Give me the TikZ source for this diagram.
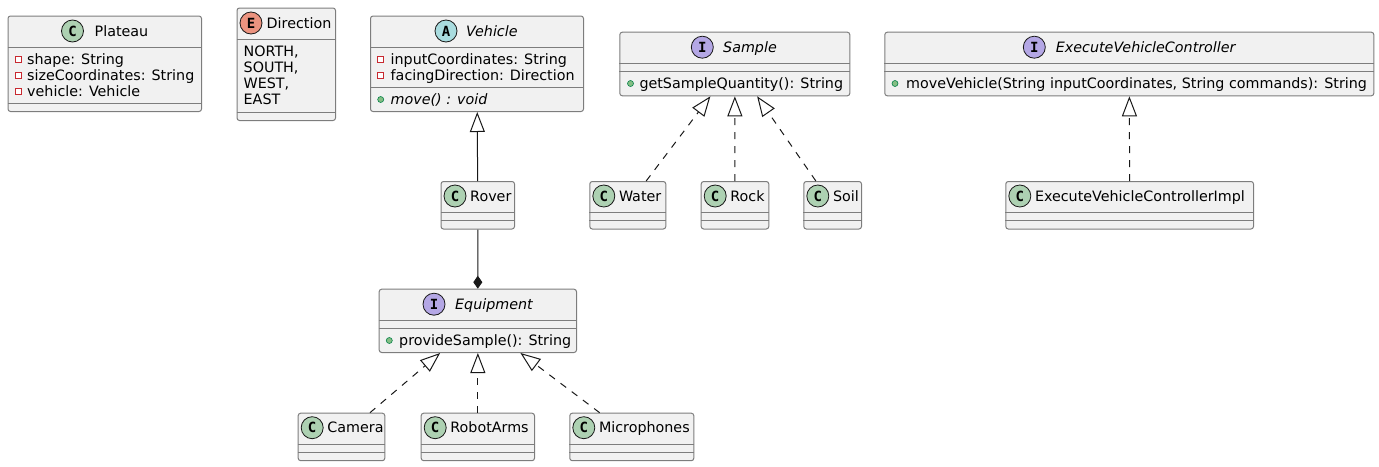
\documentclass[tikz,border=0pt]{standalone}
\usepackage{fontspec}
\setmainfont{DejaVu Sans}
\newfontfamily\badgefont{DejaVu Sans Mono}
\usetikzlibrary{arrows.meta,positioning}
\definecolor{umlfill}{RGB}{241,241,241}
\definecolor{umledge}{RGB}{125,125,125}
\definecolor{umlink}{RGB}{24,24,24}
\definecolor{classbadge}{RGB}{173,209,178}
\definecolor{enumbadge}{RGB}{235,147,127}
\definecolor{abstractbadge}{RGB}{169,220,223}
\definecolor{ifacebadge}{RGB}{180,167,229}
\definecolor{privred}{RGB}{200,41,48}
\definecolor{pubgreen}{RGB}{132,190,132}
\definecolor{pubedge}{RGB}{3,128,72}
\newcommand{\umltext}{\fontsize{14.3pt}{17pt}\selectfont}
\tikzset{
  umlclass/.style={draw=umledge,fill=umlfill,rounded corners=2.5pt,line width=1pt,
    anchor=north west,inner sep=0pt},
  badge/.style={circle,draw=umlink,fill=#1,line width=0.8pt,minimum size=22pt,inner sep=0pt,
    font=\badgefont\bfseries\fontsize{14pt}{14pt}\selectfont},
  badge/.default=classbadge,
  title/.style={anchor=base west,inner sep=0pt,yshift=-5pt,font=\umltext},
  member/.style={anchor=base west,inner sep=0pt,yshift=-5pt,font=\umltext},
  compsep/.style={draw=umledge,line width=1pt},
  generalize/.style={draw=umlink,line width=1pt,-{Triangle[open,length=20pt,width=15pt]}},
  realize/.style={generalize,dash pattern=on 7pt off 7pt},
  compose/.style={draw=umlink,line width=1pt,-{Diamond[length=13pt,width=9pt]}},
  % visibility marks
  pics/priv/.style={code={
    \draw[privred,line width=0.8pt,fill=white] (-3,-3) rectangle (3,3);
  }},
  pics/pub/.style={code={
    \draw[pubedge,fill=pubgreen,line width=0.6pt] (0,0) circle (3);
  }},
}

\begin{document}
\begin{tikzpicture}[x=1pt,y=-1pt]
  \useasboundingbox (0,0) rectangle (1379,466);

  % Plateau
  \node[umlclass,minimum width=193.5pt,minimum height=95.5pt] (plateau) at (7.5,15.5) {};
  \node[badge] (plateau-badge) at (72.5,31) {C};
  \node[title] (plateau-title) at (94.5,31) {Plateau};
  \foreach \d in {32,88} \draw[compsep] ([yshift=-\d pt]plateau.north west) -- ([yshift=-\d pt]plateau.north east);
  \foreach \t [count=\i] in {shape: String,sizeCoordinates: String,vehicle: Vehicle}{
    \pic at (18.5,43.5+16*\i) {priv};
    \node[member] (plateau-m\i) at (27,43.5+16*\i) {\t};}

  % Direction
  \node[umlclass,minimum width=98.5pt,minimum height=112.5pt] (direction) at (236.5,7.5) {};
  \node[badge=enumbadge] (direction-badge) at (251,23) {E};
  \node[title] (direction-title) at (266.5,23) {Direction};
  \foreach \d in {32,105} \draw[compsep] ([yshift=-\d pt]direction.north west) -- ([yshift=-\d pt]direction.north east);
  \foreach \t [count=\i] in {{NORTH,},{SOUTH,},{WEST,},EAST}
    \node[member] (direction-m\i) at (243.5,35.5+16*\i) {\t};

  % Vehicle
  \node[umlclass,minimum width=213pt,minimum height=95.5pt] (vehicle) at (370,15.5) {};
  \node[badge=abstractbadge] (vehicle-badge) at (446,31) {A};
  \node[title,font=\umltext\itshape] (vehicle-title) at (466,31) {Vehicle};
  \foreach \d in {32,72} \draw[compsep] ([yshift=-\d pt]vehicle.north west) -- ([yshift=-\d pt]vehicle.north east);
  \foreach \t [count=\i] in {inputCoordinates: String,facingDirection: Direction}{
    \pic at (380.7,43.5+16*\i) {priv};
    \node[member] (vehicle-m\i) at (390.5,43.5+16*\i) {\t};}
  \pic at (380.7,99.5) {pub};
  \node[member,font=\umltext\itshape] (vehicle-op) at (390.5,99.5) {move() : void};

  % Sample
  \node[umlclass,minimum width=230pt,minimum height=63.6pt] (sample) at (619.3,31.7) {};
  \node[badge=ifacebadge] (sample-badge) at (702.3,47.2) {I};
  \node[title,font=\umltext\itshape] (sample-title) at (723,47.2) {Sample};
  \foreach \d in {31.6,39.6} \draw[compsep] ([yshift=-\d pt]sample.north west) -- ([yshift=-\d pt]sample.north east);
  \pic at (630.5,83.5) {pub};
  \node[member] (sample-op) at (639.3,83.5) {getSampleQuantity(): String};

  % ExecuteVehicleController
  \node[umlclass,minimum width=489pt,minimum height=63.6pt] (evc) at (884.3,31.7) {};
  \node[badge=ifacebadge] (evc-badge) at (1034.3,47.2) {I};
  \node[title,font=\umltext\itshape] (evc-title) at (1055.7,47.2) {ExecuteVehicleController};
  \foreach \d in {31.6,39.6} \draw[compsep] ([yshift=-\d pt]evc.north west) -- ([yshift=-\d pt]evc.north east);
  \pic at (895,83.5) {pub};
  \node[member] (evc-op) at (906,83.5) {moveVehicle(String inputCoordinates, String commands): String};

  % Equipment
  \node[umlclass,minimum width=197.3pt,minimum height=63.3pt] (equipment) at (378.7,288.7) {};
  \node[badge=ifacebadge] (equipment-badge) at (434,304.2) {I};
  \node[title,font=\umltext\itshape] (equipment-title) at (455,304.2) {Equipment};
  \foreach \d in {31.6,39.6} \draw[compsep] ([yshift=-\d pt]equipment.north west) -- ([yshift=-\d pt]equipment.north east);
  \pic at (389.3,340.5) {pub};
  \node[member] (equipment-op) at (399,340.5) {provideSample(): String};

  % classes without members
  \foreach \n/\x/\y/\w/\t in {rover/440.5/181/73.5/Rover,water/589.3/181/76/Water,
      rock/700.7/181/67.6/Rock,soil/803.3/181/57.7/Soil,
      evcimpl/1005.3/181/247.7/ExecuteVehicleControllerImpl,
      camera/297.7/412.7/86.6/Camera,robotarms/420.7/412.7/113.3/RobotArms,
      microphones/569.3/412.7/124/Microphones}{
    \node[umlclass,minimum width=\w pt,minimum height=47.5pt] (\n) at (\x,\y) {};
    \node[badge] (\n-badge) at (\x+14.5,\y+15) {C};
    \node[title] (\n-title) at (\x+29.5,\y+15) {\t};
    \foreach \d in {31.3,39.3} \draw[compsep] ([yshift=-\d pt]\n.north west) -- ([yshift=-\d pt]\n.north east);
  }

  % relations
  \draw[generalize] (rover) -- (vehicle);
  \draw[compose] (rover) -- (equipment);
  \foreach \c in {water,rock,soil} \draw[realize] (\c) -- (sample);
  \foreach \c in {camera,robotarms,microphones} \draw[realize] (\c) -- (equipment);
  \draw[realize] (evcimpl) -- (evc);
\end{tikzpicture}
\end{document}
